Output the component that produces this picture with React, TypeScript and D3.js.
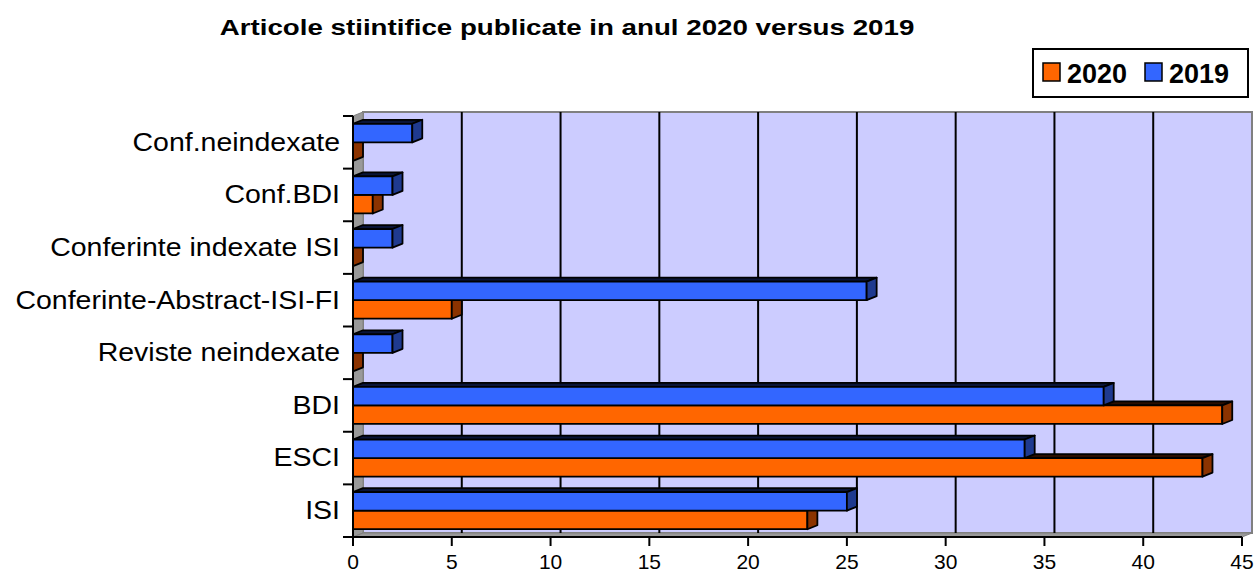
import React from 'react';
import * as d3 from 'd3';

const categories = [
  'Conf.neindexate',
  'Conf.BDI',
  'Conferinte indexate ISI',
  'Conferinte-Abstract-ISI-FI',
  'Reviste neindexate',
  'BDI',
  'ESCI',
  'ISI',
];
const values2019 = [3, 2, 2, 26, 2, 38, 34, 25];
const values2020 = [0, 1, 0, 5, 0, 44, 43, 23];
const xTicks = [0, 5, 10, 15, 20, 25, 30, 35, 40, 45];
const seriesNames = ['2020', '2019'];

const W = 1258;
const H = 574;
const DX = 10;
const DY = -4;
const font = 'Liberation Sans, Arial, Helvetica, sans-serif';

const colors: Record<string, { front: string; side: string; top: string }> = {
  '2020': { front: '#FF6600', side: '#8B3300', top: '#2a0e00' },
  '2019': { front: '#3366FF', side: '#1F3A8F', top: '#0a1438' },
};

const poly = (pts: [number, number][]) => 'M' + pts.map(p => p.join(',')).join('L') + 'Z';

const App = () => {
  const left = 353;
  const right = 1242;
  const top = 116;
  const bottom = 537;

  const x = d3.scaleLinear().domain([0, 45]).range([left, right]);
  const y = d3.scaleBand().domain(categories).range([top, bottom]).paddingInner(0).paddingOuter(0);
  const inner = d3.scaleBand().domain(['2019', '2020']).range([0, y.bandwidth()]).paddingInner(0).paddingOuter(0.42);

  const bar = (cat: string, v: number, s: string) => {
    const y0 = (y(cat) as number) + (inner(s) as number);
    const h = inner.bandwidth();
    const x0 = x(0);
    const x1 = x(v);
    const c = colors[s];
    return (
      <g key={cat + s} stroke="#000" strokeWidth={1.8} strokeLinejoin="round">
        <path d={poly([[x0, y0], [x0 + DX, y0 + DY], [x1 + DX, y0 + DY], [x1, y0]])} fill={c.top} />
        <path d={poly([[x0, y0], [x1, y0], [x1, y0 + h], [x0, y0 + h]])} fill={c.front} />
        <path d={poly([[x1, y0], [x1 + DX, y0 + DY], [x1 + DX, y0 + h + DY], [x1, y0 + h]])} fill={c.side} />
      </g>
    );
  };

  return (
    <svg width={W} height={H} style={{ position: 'absolute', left: 0, top: 0, fontFamily: font }}>
      <rect width={W} height={H} fill="#fff" />
      <text
        transform="translate(567,35) scale(1.26,1)"
        textAnchor="middle"
        fontWeight="bold"
        fontSize={22}
      >
        Articole stiintifice publicate in anul 2020 versus 2019
      </text>

      {/* walls */}
      <path
        d={poly([[left + DX, top + DY], [right + DX, top + DY], [right + DX, bottom + DY], [left + DX, bottom + DY]])}
        fill="#CCCCFF"
        stroke="#808080"
        strokeWidth={2}
      />
      <path
        d={poly([[left, top], [left + DX, top + DY], [left + DX, bottom + DY], [left, bottom]])}
        fill="#999999"
        stroke="#808080"
        strokeWidth={1}
      />
      <path
        d={poly([[left, bottom], [left + DX, bottom + DY], [right + DX, bottom + DY], [right, bottom]])}
        fill="#999999"
        stroke="#808080"
        strokeWidth={1}
      />
      {xTicks.slice(1, -1).map(t => (
        <line key={t} x1={x(t) + DX} x2={x(t) + DX} y1={top + DY} y2={bottom + DY} stroke="#000" strokeWidth={2} />
      ))}

      {/* bars */}
      {categories.map((c, i) => (
        <g key={c}>
          {bar(c, values2020[i], '2020')}
          {bar(c, values2019[i], '2019')}
        </g>
      ))}

      {/* axes */}
      <line x1={left} x2={left} y1={top} y2={bottom} stroke="#000" strokeWidth={2} />
      {[...categories.map(c => y(c) as number), bottom].map((v, i) => (
        <line key={i} x1={left - 10} x2={left} y1={v} y2={v} stroke="#000" strokeWidth={2} />
      ))}
      {categories.map(c => (
        <text
          key={c}
          transform={`translate(340,${(y(c) as number) + y.bandwidth() / 2}) scale(1.14,1)`}
          textAnchor="end"
          dominantBaseline="central"
          fontSize={25}
        >
          {c}
        </text>
      ))}
      <line x1={left} x2={right} y1={bottom} y2={bottom} stroke="#000" strokeWidth={2} />
      {xTicks.map(t => (
        <g key={t}>
          <line x1={x(t)} x2={x(t)} y1={bottom} y2={bottom + 9} stroke="#000" strokeWidth={2} />
          <text x={x(t)} y={569} textAnchor="middle" fontSize={21}>
            {t}
          </text>
        </g>
      ))}

      {/* legend */}
      <rect x={1033} y={49} width={215} height={48} fill="#fff" stroke="#000" strokeWidth={2} />
      {seriesNames.map((s, i) => (
        <g key={s} transform={`translate(${1043 + i * 102},0)`}>
          <rect x={0} y={63} width={17} height={18} fill={colors[s].front} stroke="#000" strokeWidth={1.5} />
          <text x={24} y={83} fontSize={27} fontWeight="bold">
            {s}
          </text>
        </g>
      ))}
    </svg>
  );
};

export default App;
